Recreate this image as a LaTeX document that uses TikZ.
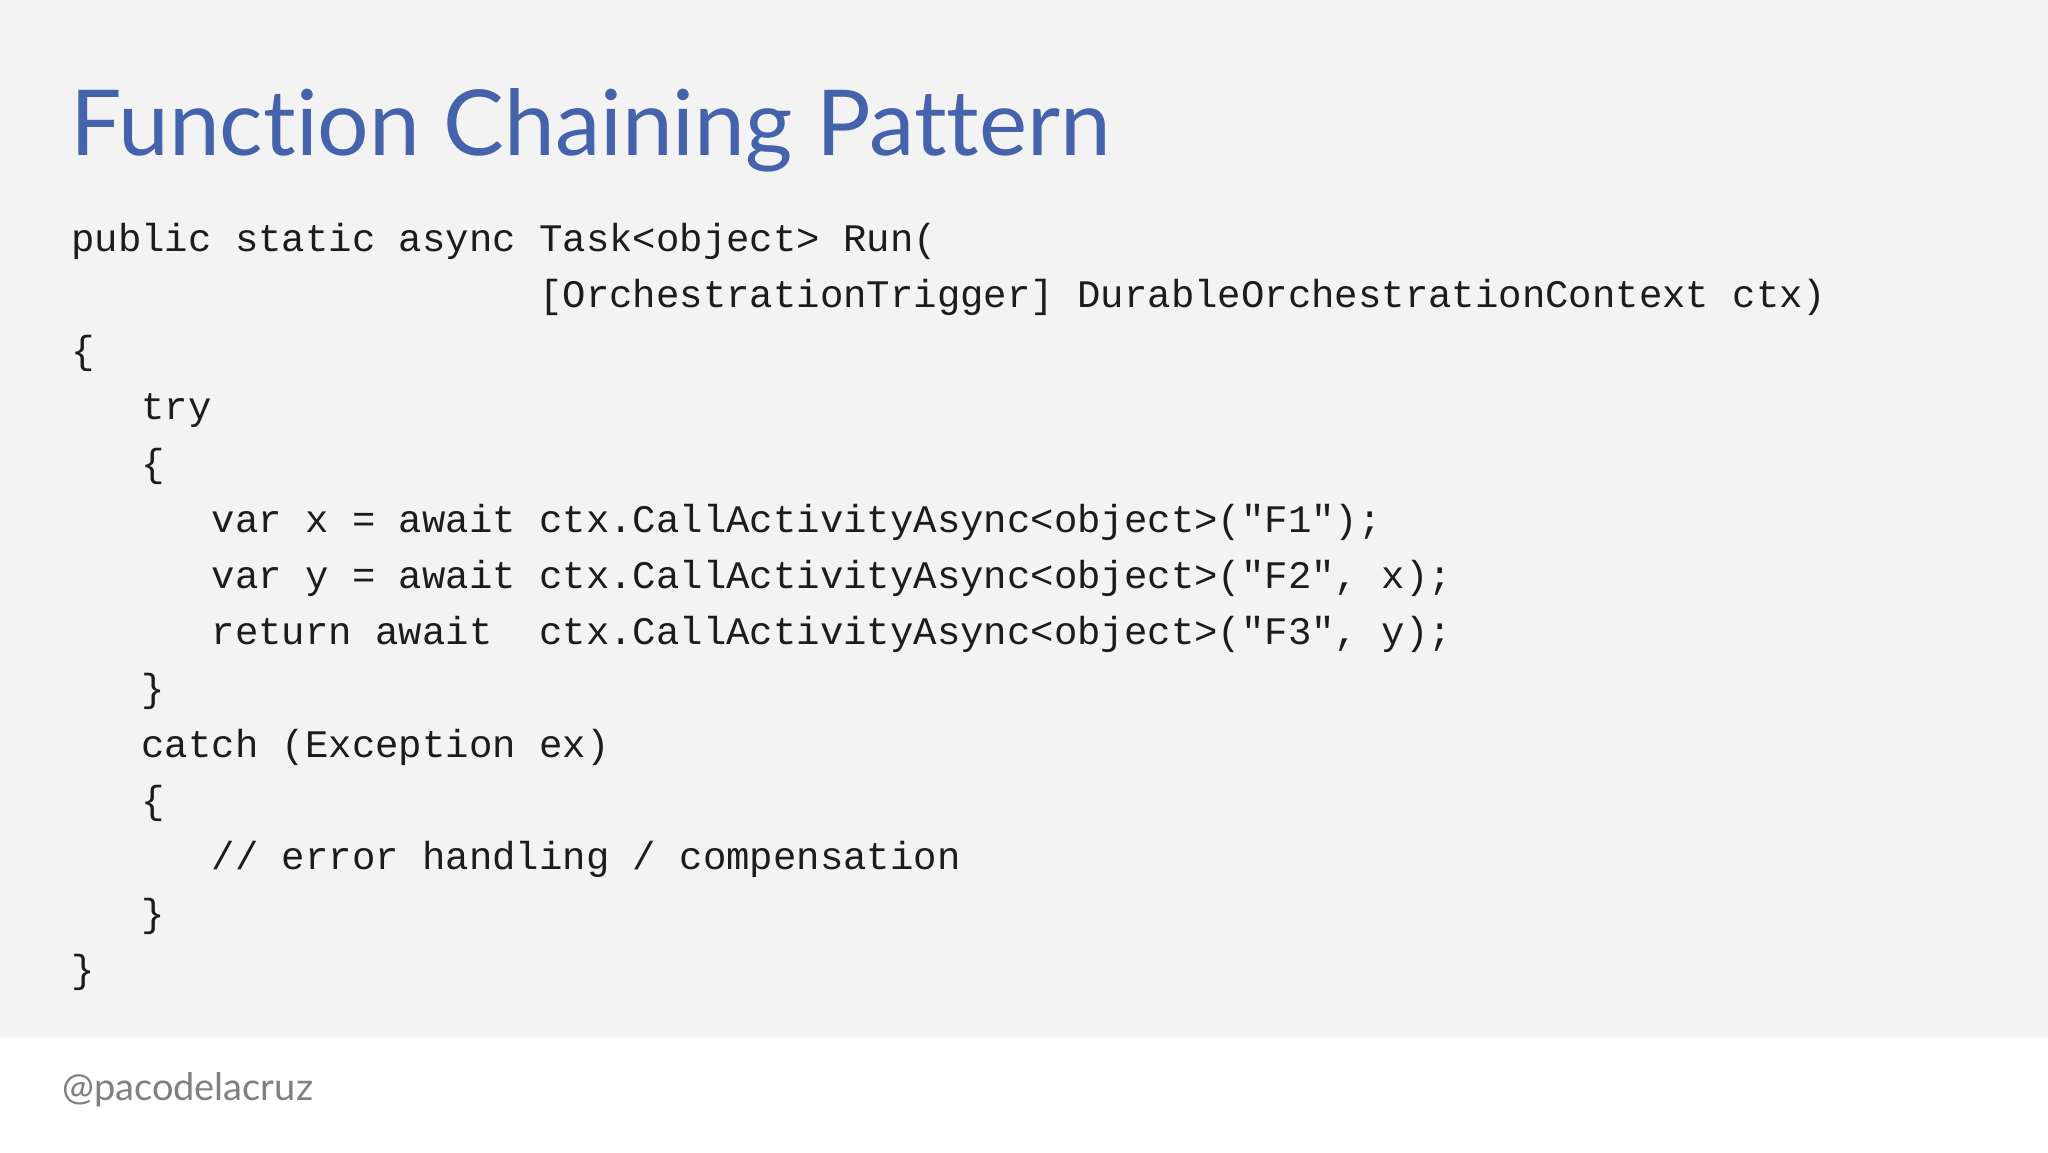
\documentclass[tikz,border=0pt]{standalone}
\usepackage{fontspec}
\setmainfont{Lato}[Ligatures={NoCommon}]
\setmonofont{Liberation Mono}
\definecolor{titleblue}{HTML}{4562AC}
\definecolor{bggray}{HTML}{F3F3F3}
\definecolor{codeink}{HTML}{1C1C1C}
\definecolor{footgray}{HTML}{808080}
\begin{document}
\begin{tikzpicture}[x=1pt,y=-1pt,
  codeline/.style={anchor=base west,inner sep=0pt,text=codeink,font=\ttfamily\fontsize{39}{39}\selectfont}]
\useasboundingbox (0,0) rectangle (2048,1152);
\fill[white] (0,0) rectangle (2048,1152);
\fill[bggray] (0,0) rectangle (2048,1038);
\node[anchor=base west,inner sep=0pt,text=titleblue,font=\fontsize{91}{91}\selectfont] (title) at (70,155) {Function Chaining Pattern};
\def\cx{71}\def\cw{23.4}
\node[codeline] (l1) at (\cx,251) {public~static~async~Task<object>~Run(};
\node[codeline] (l2) at (\cx+20*\cw,307.25) {[OrchestrationTrigger]~DurableOrchestrationContext~ctx)};
\node[codeline] (l3) at (\cx,363.5) {\{};
\node[codeline] (l4) at (\cx+3*\cw,419.75) {try};
\node[codeline] (l5) at (\cx+3*\cw,476) {\{};
\node[codeline] (l6) at (\cx+6*\cw,532.25) {var~x~=~await~ctx.CallActivityAsync<object>("F1");};
\node[codeline] (l7) at (\cx+6*\cw,588.5) {var~y~=~await~ctx.CallActivityAsync<object>("F2",~x);};
\node[codeline] (l8) at (\cx+6*\cw,644.75) {return~await~~ctx.CallActivityAsync<object>("F3",~y);};
\node[codeline] (l9) at (\cx+3*\cw,701) {\}};
\node[codeline] (l10) at (\cx+3*\cw,757.25) {catch~(Exception~ex)};
\node[codeline] (l11) at (\cx+3*\cw,813.5) {\{};
\node[codeline] (l12) at (\cx+6*\cw,869.75) {//~error~handling~/~compensation};
\node[codeline] (l13) at (\cx+3*\cw,926) {\}};
\node[codeline] (l14) at (\cx,982.25) {\}};
\node[anchor=base west,inner sep=0pt,text=footgray,font=\fontsize{38}{38}\selectfont] (foot) at (62,1100) {@pacodelacruz};
\end{tikzpicture}
\end{document}
